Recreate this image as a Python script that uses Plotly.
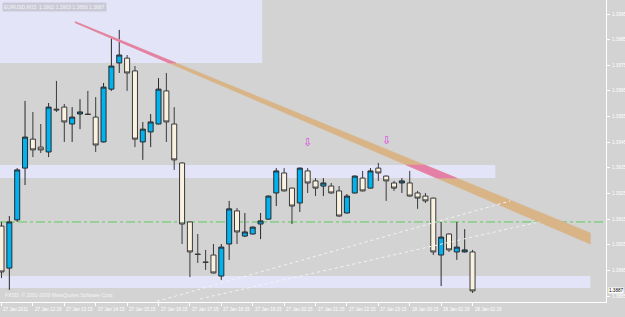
import plotly.graph_objects as go

# ---------------- data ----------------
bar_index = list(range(61))
open_ = [1.39123,1.38959,1.39147,1.39349,1.39462,1.39431,1.39412,1.39579,1.39587,1.39521,
         1.39560,1.39560,1.39548,1.39451,1.39657,1.39759,1.39778,1.39728,1.39451,1.39490,
         1.39521,1.39650,1.39521,1.39369,1.39139,1.39014,1.38983,1.39010,1.38928,1.39053,
         1.39182,1.39084,1.39092,1.39131,1.39150,1.39252,1.39330,1.39271,1.39213,1.39338,
         1.39299,1.39279,1.39279,1.39260,1.39174,1.39252,1.39310,1.39271,1.39349,1.39318,
         1.39291,1.39291,1.39291,1.39252,1.39240,1.39232,1.39010,1.39092,1.39022,1.39022,
         1.39022]
high = [1.39139,1.39162,1.39349,1.39611,1.39568,1.39521,1.39603,1.39689,1.39599,1.39587,
        1.39618,1.39650,1.39626,1.39681,1.39856,1.39888,1.39790,1.39747,1.39529,1.39560,
        1.39700,1.39720,1.39587,1.39371,1.39141,1.39092,1.39030,1.39053,1.39053,1.39221,
        1.39193,1.39174,1.39121,1.39174,1.39242,1.39349,1.39349,1.39273,1.39351,1.39349,
        1.39310,1.39310,1.39291,1.39279,1.39248,1.39320,1.39338,1.39349,1.39369,1.39320,
        1.39299,1.39310,1.39338,1.39260,1.39252,1.39234,1.39139,1.39094,1.39139,1.39111,
        1.39030]
low = [1.38920,1.38874,1.39139,1.39283,1.39392,1.39408,1.39392,1.39568,1.39451,1.39451,
       1.39501,1.39556,1.39412,1.39449,1.39650,1.39720,1.39650,1.39431,1.39381,1.39431,
       1.39519,1.39451,1.39342,1.39053,1.38924,1.38979,1.38952,1.38938,1.38913,1.38991,
       1.39053,1.39080,1.39090,1.39072,1.39148,1.39201,1.39258,1.39131,1.39178,1.39252,
       1.39240,1.39240,1.39250,1.39160,1.39172,1.39250,1.39258,1.39269,1.39299,1.39221,
       1.39260,1.39252,1.39238,1.39190,1.39213,1.39010,1.38889,1.39022,1.38991,1.39020,
       1.38862]
close = [1.38944,1.39139,1.39342,1.39470,1.39420,1.39420,1.39587,1.39576,1.39529,1.39548,
         1.39568,1.39558,1.39439,1.39665,1.39747,1.39790,1.39720,1.39462,1.39501,1.39529,
         1.39657,1.39529,1.39381,1.39131,1.39022,1.39012,1.38981,1.38940,1.39041,1.39190,
         1.39100,1.39100,1.39119,1.39143,1.39240,1.39338,1.39260,1.39201,1.39349,1.39291,
         1.39271,1.39291,1.39252,1.39162,1.39240,1.39318,1.39260,1.39338,1.39330,1.39299,
         1.39271,1.39299,1.39240,1.39232,1.39221,1.39022,1.39080,1.39030,1.39041,1.39030,
         1.38870]

time_tick_index = [0, 4, 8, 12, 16, 20, 24, 28, 32, 36, 40, 44, 48, 52, 56, 60]
time_tick_labels = ["27 Jan 2011", "27 Jan 12:15", "27 Jan 13:15", "27 Jan 14:15",
                    "27 Jan 15:15", "27 Jan 16:15", "27 Jan 17:15", "27 Jan 18:15",
                    "27 Jan 19:15", "27 Jan 20:15", "27 Jan 21:15", "27 Jan 22:15",
                    "27 Jan 23:15", "28 Jan 00:15", "28 Jan 01:15", "28 Jan 02:15"]
price_ticks = [1.3995, 1.3985, 1.3975, 1.3965, 1.3955, 1.3945,
               1.3935, 1.3925, 1.3915, 1.3905, 1.3895, 1.3885]

# zones: (x_start, x_end, price_low, price_high)
zone_top = (-0.2, 33.2, 1.39759, 1.40100)
zone_mid = (-0.2, 62.9, 1.39310, 1.39361)
zone_low = (-0.2, 75.0, 1.38881, 1.38928)
hline_price = 1.39139

# wedge trend line: index, top price, bottom price at both ends
wedge_x = [9.4, 75.0]
wedge_top = [1.39920, 1.39096]
wedge_bot = [1.39916, 1.39053]

# dotted lines
dotA_x, dotA_y = [17.6, 64.8], [1.38810, 1.39221]
dotB_x, dotB_y = [25.3, 68.6], [1.38839, 1.39140]

arrow_x = [39, 49]
arrow_y = [1.39447, 1.39455]

title_text = "EURUSD,M15  1.3902 1.3903 1.3886 1.3887"
last_price = 1.3887

X_RANGE = [-0.19, 77.0]
Y_RANGE = [1.388268, 1.400046]

BG = "#D3D3D3"
LAV = "#E4E4F8"
FONT = "Liberation Sans"


def clip_poly(poly, x0, x1, y0, y1):
    def clip_edge(pts, inside, inter):
        out = []
        n = len(pts)
        for k in range(n):
            cur, prev = pts[k], pts[k - 1]
            if inside(cur):
                if not inside(prev):
                    out.append(inter(prev, cur))
                out.append(cur)
            elif inside(prev):
                out.append(inter(prev, cur))
        return out

    def ix(xc):
        return lambda a, b: (xc, a[1] + (b[1] - a[1]) * (xc - a[0]) / (b[0] - a[0]))

    def iy(yc):
        return lambda a, b: (a[0] + (b[0] - a[0]) * (yc - a[1]) / (b[1] - a[1]), yc)

    pts = poly
    for inside, inter in [(lambda p: p[0] >= x0, ix(x0)), (lambda p: p[0] <= x1, ix(x1)),
                          (lambda p: p[1] >= y0, iy(y0)), (lambda p: p[1] <= y1, iy(y1))]:
        if not pts:
            break
        pts = clip_edge(pts, inside, inter)
    return pts


fig = go.Figure()

fig.add_trace(go.Candlestick(
    x=bar_index, open=open_, high=high, low=low, close=close,
    increasing=dict(fillcolor="#00B2F0", line=dict(color="#2A2A2A", width=1)),
    decreasing=dict(fillcolor="#FAF2E0", line=dict(color="#3A3A3A", width=1)),
    whiskerwidth=0, showlegend=False, hoverinfo="skip"))

# wedge
wedge_poly = [(wedge_x[0], wedge_top[0]), (wedge_x[1], wedge_top[1]),
              (wedge_x[1], wedge_bot[1]), (wedge_x[0], wedge_bot[0])]
fig.add_trace(go.Scatter(x=[p[0] for p in wedge_poly] + [wedge_poly[0][0]],
                         y=[p[1] for p in wedge_poly] + [wedge_poly[0][1]],
                         fill="toself", fillcolor="#D8B487", mode="lines",
                         line=dict(color="#D8B487", width=0.6),
                         showlegend=False, hoverinfo="skip"))
for z in (zone_top, zone_mid):
    cp = clip_poly(wedge_poly, z[0], z[1], z[2], z[3])
    if cp:
        fig.add_trace(go.Scatter(x=[p[0] for p in cp] + [cp[0][0]],
                                 y=[p[1] for p in cp] + [cp[0][1]],
                                 fill="toself", fillcolor="#E57FA8", mode="lines",
                                 line=dict(color="#E57FA8", width=0.6),
                                 showlegend=False, hoverinfo="skip"))

for xs, ys in ((dotA_x, dotA_y), (dotB_x, dotB_y)):
    fig.add_trace(go.Scatter(x=xs, y=ys, mode="lines",
                             line=dict(color="#F4F4F4", width=1, dash="dot"),
                             showlegend=False, hoverinfo="skip"))

shapes = []
for z in (zone_top, zone_mid, zone_low):
    shapes.append(dict(type="rect", xref="x", yref="y", x0=z[0], x1=z[1], y0=z[2], y1=z[3],
                       fillcolor=LAV, line=dict(width=0), layer="below"))
shapes.append(dict(type="line", xref="paper", yref="y", x0=0, x1=1,
                   y0=hline_price, y1=hline_price,
                   line=dict(color="#5ACD5A", width=1, dash="dashdot"), layer="below"))

annotations = []
for xi, lab in zip(time_tick_index, time_tick_labels):
    annotations.append(dict(x=xi, y=0, xref="x", yref="paper", text=lab, showarrow=False,
                            xanchor="left", yanchor="top", yshift=-3, xshift=0,
                            font=dict(family=FONT, size=4.6, color="#FFFFFF")))
for pv in price_ticks:
    annotations.append(dict(x=1, y=pv, xref="paper", yref="y", text=f"{pv:.4f}",
                            showarrow=False, xanchor="left", yanchor="middle", xshift=4,
                            font=dict(family=FONT, size=4.6, color="#FFFFFF")))
for ax, ay in zip(arrow_x, arrow_y):
    annotations.append(dict(x=ax, y=ay, xref="x", yref="y", text="⇩", showarrow=False,
                            font=dict(family="DejaVu Sans", size=11, color="#E040E0")))
annotations.append(dict(x=0, y=1, xref="paper", yref="paper", text=title_text, showarrow=False,
                        xanchor="left", yanchor="top", xshift=2, yshift=-2,
                        bgcolor="#C9C9D8", borderpad=1,
                        font=dict(family=FONT, size=5, color="#F4F4F4")))
annotations.append(dict(x=0, y=0, xref="paper", yref="paper",
                        text="FXDD, © 2001-2009 MetaQuotes Software Corp.", showarrow=False,
                        xanchor="left", yanchor="bottom", xshift=3, yshift=2,
                        font=dict(family=FONT, size=5, color="#F4F4F4")))
annotations.append(dict(x=1, y=last_price, xref="paper", yref="y", text=f"{last_price:.4f}",
                        showarrow=False, xanchor="left", yanchor="middle", xshift=2,
                        bgcolor="#FFFFFF", borderpad=0,
                        font=dict(family=FONT, size=4.6, color="#000000")))

fig.update_layout(
    width=625, height=317,
    margin=dict(l=0, r=19, t=0, b=15, pad=0),
    paper_bgcolor=BG, plot_bgcolor=BG,
    boxgap=0.36, boxgroupgap=0,
    showlegend=False, hovermode=False,
    shapes=shapes, annotations=annotations,
    xaxis=dict(range=X_RANGE, rangeslider=dict(visible=False), showgrid=False, zeroline=False,
               tickmode="array", tickvals=time_tick_index, showticklabels=False,
               ticks="outside", ticklen=3, tickcolor="#FFFFFF",
               showline=True, linecolor="#FFFFFF", linewidth=1, automargin=False),
    yaxis=dict(range=Y_RANGE, side="right", showgrid=False, zeroline=False,
               tickmode="array", tickvals=price_ticks, showticklabels=False,
               ticks="outside", ticklen=3, tickcolor="#FFFFFF",
               showline=True, linecolor="#FFFFFF", linewidth=1, automargin=False),
)

fig.write_html("out.html")
